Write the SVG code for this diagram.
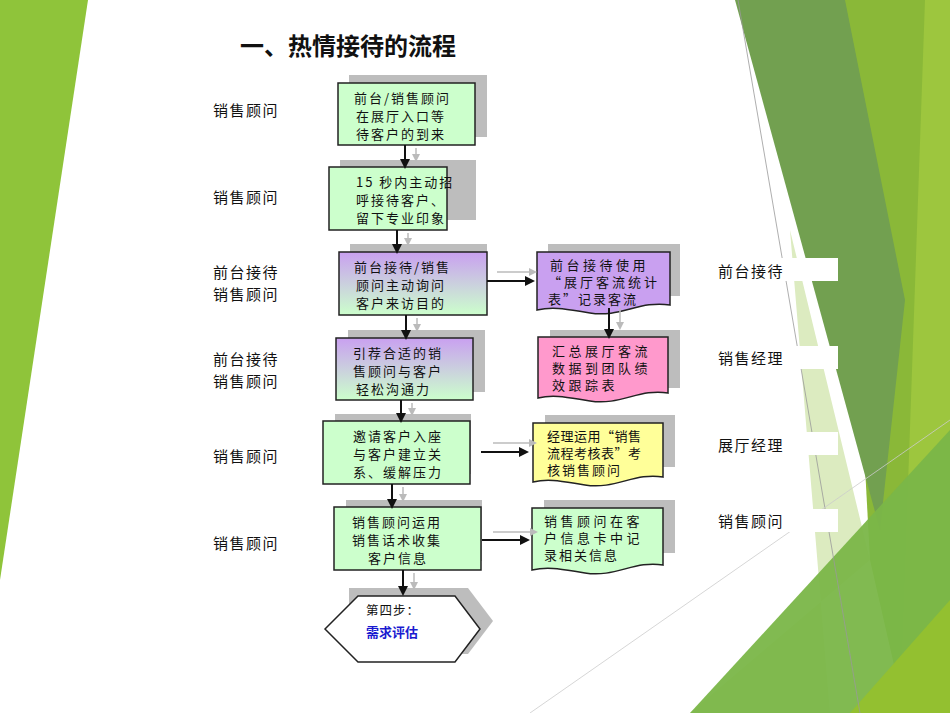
<svg xmlns="http://www.w3.org/2000/svg" width="950" height="713" viewBox="0 0 950 713">
<defs>
<style>
text{font-family:"Noto Sans CJK SC","Liberation Sans",sans-serif;font-size:13px;fill:#111;letter-spacing:2px}
.lab{font-size:15px;letter-spacing:1.5px}
.box{stroke:#222;stroke-width:1.5}
.sh{fill:#bdbdbd}
.g{fill:#ccffcc}
.k{stroke:#111;stroke-width:2;fill:none;marker-end:url(#ab)}
.q{stroke:#bbb;stroke-width:1.5;fill:none;marker-end:url(#ag)}
</style>
<marker id="ab" markerWidth="10" markerHeight="10" refX="8" refY="5" orient="auto" markerUnits="userSpaceOnUse"><path d="M0,0L10,5L0,10z" fill="#111"/></marker>
<marker id="ag" markerWidth="8" markerHeight="8" refX="6" refY="4" orient="auto" markerUnits="userSpaceOnUse"><path d="M0,0L8,4L0,8z" fill="#bbb"/></marker>
<linearGradient id="pg" x1="0" y1="0" x2="0" y2="1"><stop offset="0" stop-color="#c9a0f0"/><stop offset="1" stop-color="#ccffcc"/></linearGradient>
</defs>
<rect width="950" height="713" fill="#fff"/>
<g id="bg">
<polygon points="0,0 88,0 0,580" fill="#8fc43a"/>
<polygon points="790,230 830,713 690,713 870,560" fill="#dcebc0"/>
<polygon points="840,0 935,0 905,713 870,560" fill="#8ab838"/>
<polygon points="735,0 845,0 905,300 880,530" fill="#72a050"/>
<polygon points="925,0 950,0 950,713 900,713" fill="#9dc63e"/>
<polygon points="690,713 950,430 950,713" fill="#7ab648" opacity="0.95"/>
<polygon points="850,713 950,600 950,713" fill="#93c030"/>
<line x1="738" y1="0" x2="860" y2="713" stroke="#999" stroke-width="0.8"/>
<line x1="530" y1="713" x2="950" y2="420" stroke="#ccc" stroke-width="0.8"/>
<rect x="715" y="258" width="123" height="23" fill="#fff"/>
<rect x="715" y="346" width="123" height="23" fill="#fff"/>
<rect x="715" y="432" width="123" height="23" fill="#fff"/>
<rect x="715" y="509" width="123" height="23" fill="#fff"/>
</g>
<text x="240" y="55" style="font-size:24px;font-weight:bold;letter-spacing:0">一、热情接待的流程</text>
<g id="labels">
<text class="lab" x="213" y="116">销售顾问</text>
<text class="lab" x="213" y="203">销售顾问</text>
<text class="lab" x="213" y="278">前台接待</text><text class="lab" x="213" y="300">销售顾问</text>
<text class="lab" x="213" y="365">前台接待</text><text class="lab" x="213" y="387">销售顾问</text>
<text class="lab" x="213" y="462">销售顾问</text>
<text class="lab" x="213" y="549">销售顾问</text>
<text class="lab" x="718" y="277">前台接待</text>
<text class="lab" x="718" y="364">销售经理</text>
<text class="lab" x="718" y="451">展厅经理</text>
<text class="lab" x="718" y="527">销售顾问</text>
</g>
<g id="n1"><rect class="sh" x="349" y="75" width="138" height="62"/><rect class="box g" x="338" y="83" width="137" height="62"/>
<text x="354" y="103">前台/销售顾问</text><text x="356" y="121">在展厅入口等</text><text x="356" y="139">待客户的到来</text></g>
<g id="n2"><rect class="sh" x="340" y="160" width="136" height="60"/><rect class="box g" x="329" y="167" width="118" height="63"/>
<text x="356" y="187">15 秒内主动招</text><text x="356" y="205">呼接待客户、</text><text x="356" y="223">留下专业印象</text></g>
<g id="n3"><rect class="sh" x="350" y="244" width="137" height="61"/><rect class="box" fill="url(#pg)" x="339" y="252" width="148" height="63"/>
<text x="354" y="272">前台接待/销售</text><text x="356" y="290">顾问主动询问</text><text x="356" y="308">客户来访目的</text></g>
<g id="n4"><rect class="sh" x="348" y="330" width="137" height="62"/><rect class="box" fill="url(#pg)" x="336" y="338" width="137" height="62"/>
<text x="353" y="358">引荐合适的销</text><text x="353" y="376">售顾问与客户</text><text x="356" y="394">轻松沟通力</text></g>
<g id="n5"><rect class="sh" x="335" y="414" width="136" height="60"/><rect class="box g" x="323" y="421" width="147" height="63"/>
<text x="353" y="441">邀请客户入座</text><text x="353" y="459">与客户建立关</text><text x="353" y="477">系、缓解压力</text></g>
<g id="n6"><rect class="sh" x="346" y="500" width="136" height="61"/><rect class="box g" x="334" y="507" width="147" height="63"/>
<text x="352" y="527">销售顾问运用</text><text x="352" y="545">销售话术收集</text><text x="368" y="563">客户信息</text></g>
<g id="n7"><polygon class="sh" points="349,588 468,588 493,621 468,654 349,654"/>
<polygon points="325,629 358,596 455,596 480,629 455,662 358,662" fill="#fff" stroke="#222" stroke-width="1.5"/>
<text x="366" y="615" style="font-size:12.5px;letter-spacing:1px">第四步：</text><text x="366" y="637" style="font-size:13px;fill:#1a1ad0;font-weight:bold;letter-spacing:0">需求评估</text></g>
<g id="r1"><rect class="sh" x="548" y="244" width="132" height="52"/><path class="box" fill="#c9a0f0" d="M537,252H670V305C640,300 620,318 590,313C570,310 555,306 537,310Z"/>
<text x="550" y="270" style="letter-spacing:3.5px">前台接待使用</text><text x="548" y="287" style="letter-spacing:3px">“展厅客流统计</text><text x="548" y="304">表”记录客流</text></g>
<g id="r2"><rect class="sh" x="550" y="330" width="130" height="58"/><path class="box" fill="#ff99cc" d="M538,337H668V393C640,388 620,406 590,401C570,398 555,394 538,398Z"/>
<text x="552" y="356" style="letter-spacing:3.5px">汇总展厅客流</text><text x="552" y="373" style="letter-spacing:3.5px">数据到团队绩</text><text x="552" y="390" style="letter-spacing:3.5px">效跟踪表</text></g>
<g id="r3"><rect class="sh" x="545" y="415" width="130" height="52"/><path class="box" fill="#ffff99" d="M533,423H663V477C635,472 615,490 585,485C565,482 550,478 533,482Z"/>
<text x="547" y="441" style="letter-spacing:0.5px">经理运用“销售</text><text x="547" y="458" style="letter-spacing:0.5px">流程考核表”考</text><text x="547" y="475">核销售顾问</text></g>
<g id="r4"><rect class="sh" x="544" y="500" width="131" height="53"/><path class="box g" d="M532,508H663V565C635,560 615,578 585,573C565,570 550,566 532,570Z"/>
<text x="544" y="526" style="letter-spacing:3.5px">销售顾问在客</text><text x="544" y="543" style="letter-spacing:3.5px">户信息卡中记</text><text x="544" y="560">录相关信息</text></g>
<g id="connectors">
<path class="k" d="M405,145V167"/><path class="q" d="M416,148V160"/>
<path class="k" d="M397,230V252"/><path class="q" d="M408,233V244"/>
<path class="k" d="M406,315V338"/><path class="q" d="M417,318V330"/>
<path class="k" d="M401,400V421"/><path class="q" d="M412,403V414"/>
<path class="k" d="M392,484V507"/><path class="q" d="M403,487V500"/>
<path class="k" d="M403,570V594"/><path class="q" d="M414,573V588"/>
<path class="k" d="M609,308V337"/><path class="q" d="M620,308V328"/>
<path class="k" d="M487,281H533"/><path class="q" d="M497,272H535"/>
<path class="k" d="M481,452H527"/><path class="q" d="M493,443H535"/>
<path class="k" d="M482,540H528"/><path class="q" d="M493,532H536"/>
</g>
</svg>
